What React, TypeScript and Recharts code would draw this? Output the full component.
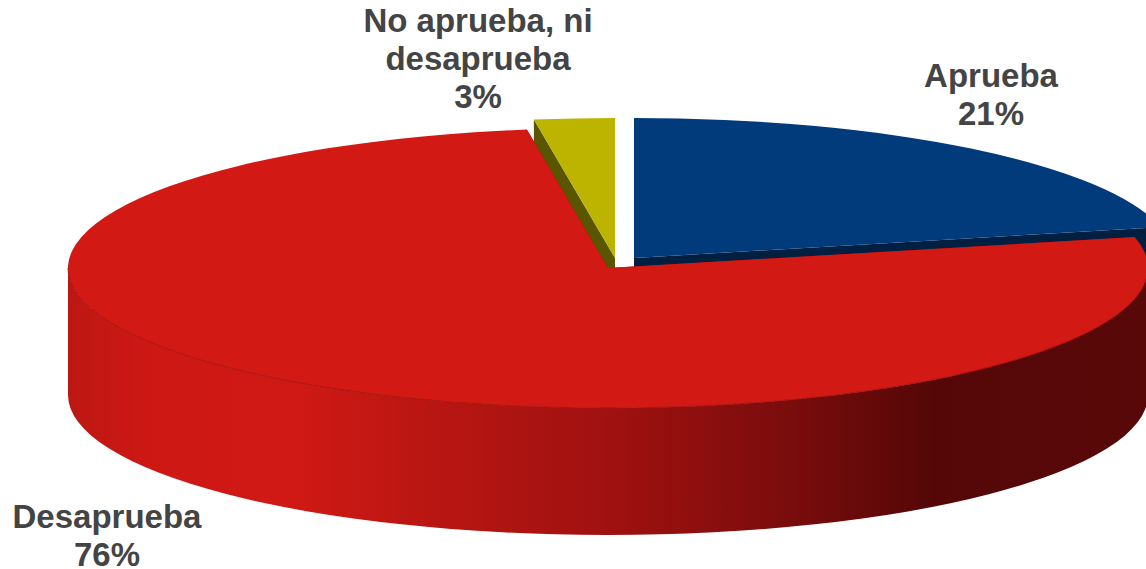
import * as React from "react"
import { PieChart, Pie } from "recharts"

const categories = ["No aprueba, ni desaprueba", "Aprueba", "Desaprueba"]
const shares = [2.4, 21.45, 76.15]
const percentLabels = ["3%", "21%", "76%"]
const topColors = ["#bdb400", "#013b7b", "#d31914"]
const sideColors = ["#5a5600", "#011f40", "#8a0d0d"]

const data = categories.map((name, i) => ({ name, value: shares[i] }))

// the pie is flattened and extruded by hand, recharts only gives the angles
const SQUASH = 0.2593
const DEPTH = 127
const RAD = Math.PI / 180

const explode: Record<string, [number, number]> = {
  "No aprueba, ni desaprueba": [7, -10],
  Aprueba: [26, -10],
  Desaprueba: [0, 0],
}

const labelLines: Record<string, string[]> = {
  "No aprueba, ni desaprueba": ["No aprueba, ni", "desaprueba"],
  Aprueba: ["Aprueba"],
  Desaprueba: ["Desaprueba"],
}

const labelPos: Record<string, [number, number]> = {
  "No aprueba, ni desaprueba": [478, 32],
  Aprueba: [991, 87],
  Desaprueba: [107, 528],
}

const wallStops: [string, string][] = [
  ["0%", "#bd1713"],
  ["8%", "#ce1814"],
  ["21%", "#d01914"],
  ["34%", "#b81612"],
  ["51%", "#9e1110"],
  ["67%", "#7a0c0c"],
  ["80%", "#550707"],
  ["100%", "#590808"],
]

function Slice3D(props: any) {
  const { startAngle, endAngle, outerRadius, index, name } = props
  const [dx, dy] = explode[name] || [0, 0]
  const cx = props.cx + dx
  const cy = props.cy + dy
  const rx = outerRadius
  const ry = outerRadius * SQUASH
  const at = (deg: number, drop = 0) =>
    `${cx + rx * Math.cos(deg * RAD)} ${cy - ry * Math.sin(deg * RAD) + drop}`
  const large = startAngle - endAngle > 180 ? 1 : 0
  const cut = (deg: number) =>
    `M${cx} ${cy}L${at(deg)}L${at(deg, DEPTH)}L${cx} ${cy + DEPTH}Z`

  // front part of the rim only, angles between 0 and -180
  const frontFrom = Math.min(startAngle, 0)
  const frontTo = Math.max(endAngle, -180)
  const hasFront = frontFrom > frontTo

  return (
    <g>
      <path d={cut(startAngle)} fill={sideColors[index]} />
      <path d={cut(endAngle)} fill={sideColors[index]} />
      {hasFront && (
        <path
          d={`M${at(frontFrom)}A${rx} ${ry} 0 0 1 ${at(frontTo)}L${at(frontTo, DEPTH)}A${rx} ${ry} 0 0 0 ${at(frontFrom, DEPTH)}Z`}
          fill="url(#wallShade)"
        />
      )}
      <path
        d={`M${cx} ${cy}L${at(startAngle)}A${rx} ${ry} 0 ${large} 1 ${at(endAngle)}Z`}
        fill={topColors[index]}
      />
      {hasFront && (
        <path
          d={`M${at(frontFrom)}A${rx} ${ry} 0 0 1 ${at(frontTo)}`}
          fill="none"
          stroke="#a81411"
          strokeWidth={1}
        />
      )}
    </g>
  )
}

function SliceLabel(props: any) {
  const { name, index } = props
  const [x, y] = labelPos[name]
  const lines = [...labelLines[name], percentLabels[index]]
  return (
    <text
      x={x}
      y={y}
      textAnchor="middle"
      fill="#444444"
      fontFamily="'Liberation Sans', Arial, sans-serif"
      fontWeight="bold"
      fontSize={33}
    >
      {lines.map((line, i) => (
        <tspan key={line} x={x} y={y + i * 37.8}>
          {line}
        </tspan>
      ))}
    </text>
  )
}

export default function App() {
  return (
    <div style={{ position: "absolute", left: 0, top: 0, width: 1146, height: 569, overflow: "hidden" }}>
      <PieChart width={1146} height={569} margin={{ top: 0, right: 0, bottom: 0, left: 0 }}>
        <defs>
          <linearGradient id="wallShade" gradientUnits="userSpaceOnUse" x1={68} y1={0} x2={1148} y2={0}>
            {wallStops.map(([offset, color]) => (
              <stop key={offset} offset={offset} stopColor={color} />
            ))}
          </linearGradient>
        </defs>
        <Pie
          data={data}
          dataKey="value"
          nameKey="name"
          cx={608}
          cy={268}
          innerRadius={0}
          outerRadius={540}
          startAngle={98.64}
          endAngle={-261.36}
          stroke="none"
          shape={Slice3D}
          label={SliceLabel}
          labelLine={false}
          isAnimationActive={false}
        />
      </PieChart>
    </div>
  )
}
